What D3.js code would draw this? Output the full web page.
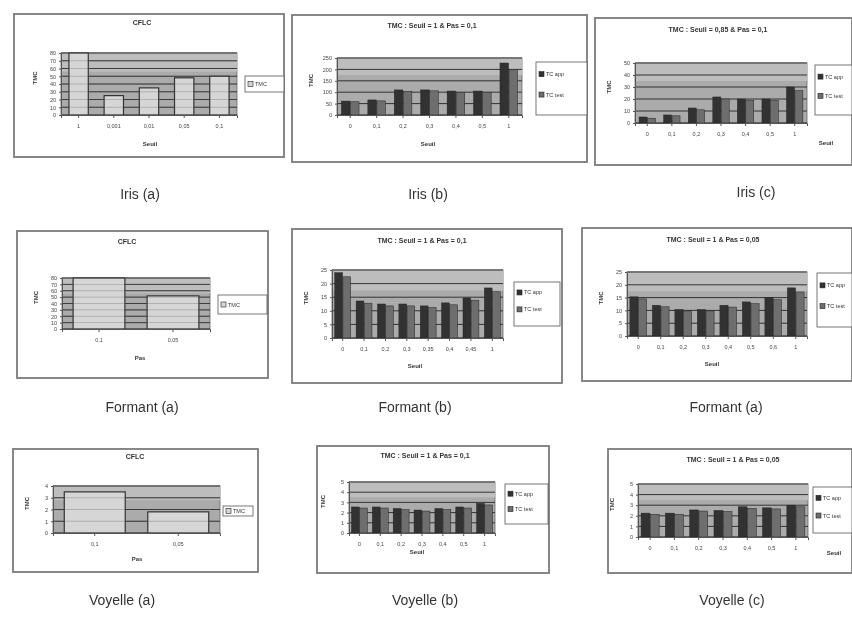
<!DOCTYPE html>
<html><head><meta charset="utf-8">
<script src="https://cdn.jsdelivr.net/npm/d3@7"></script>
<style>body{margin:0;background:#fff}svg{display:block}</style>
</head><body>
<svg id="c" width="852" height="619"></svg>
<script>
// ---------- DATA ----------
const irisA_cats = ["1","0,001","0,01","0,05","0,1"];
const irisA_tmc  = [80, 25, 35, 48, 50];
const irisA_ticks = [0,10,20,30,40,50,60,70,80];

const irisB_cats = ["0","0,1","0,2","0,3","0,4","0,5","1"];
const irisB_s1 = [61, 66, 110, 110, 105, 105, 228];
const irisB_s2 = [58, 62, 104, 106, 100, 100, 200];
const irisB_ticks = [0,50,100,150,200,250];

const irisC_cats = ["0","0,1","0,2","0,3","0,4","0,5","1"];
const irisC_s1 = [5, 6.7, 12.5, 21.7, 20, 20, 30];
const irisC_s2 = [4, 6, 11, 20, 19, 19, 27];
const irisC_ticks = [0,10,20,30,40,50];

const formA_cats = ["0,1","0,05"];
const formA_tmc  = [80, 52];
const formA_ticks = [0,10,20,30,40,50,60,70,80];

const formB_cats = ["0","0,1","0,2","0,3","0,35","0,4","0,45","1"];
const formB_s1 = [24, 13.6, 12.5, 12.5, 11.8, 12.9, 14.7, 18.4];
const formB_s2 = [22.5, 12.8, 11.8, 11.8, 11.2, 12.2, 13.9, 17];
const formB_ticks = [0,5,10,15,20,25];

const formC_cats = ["0","0,1","0,2","0,3","0,4","0,5","0,6","1"];
const formC_s1 = [15.3, 12, 10.3, 10.3, 12, 13.3, 15, 18.8];
const formC_s2 = [14.5, 11.4, 9.8, 9.8, 11.3, 12.6, 14.2, 17.2];
const formC_ticks = [0,5,10,15,20,25];

const voyA_cats = ["0,1","0,05"];
const voyA_tmc  = [3.5, 1.8];
const voyA_ticks = [0,1,2,3,4];

const voyB_cats = ["0","0,1","0,2","0,3","0,4","0,5","1"];
const voyB_s1 = [2.55, 2.55, 2.4, 2.25, 2.4, 2.55, 2.9];
const voyB_s2 = [2.45, 2.45, 2.3, 2.15, 2.3, 2.45, 2.75];
const voyB_ticks = [0,1,2,3,4,5];

const voyC_cats = ["0","0,1","0,2","0,3","0,4","0,5","1"];
const voyC_s1 = [2.25, 2.25, 2.55, 2.5, 2.85, 2.75, 3.0];
const voyC_s2 = [2.15, 2.15, 2.45, 2.4, 2.7, 2.65, 2.85];
const voyC_ticks = [0,1,2,3,4,5];

const legendTwo = ["TC app", "TC test"];
const legendOne = ["TMC"];

// ---------- LAYOUT ----------
const panels = [
 {box:[14,14,284,157], title:"CFLC", tx:142, ty:25, plot:[61,53,237,115], cats:irisA_cats, series:[irisA_tmc], ticks:irisA_ticks,
  leg:[245,76,284,92], xl:"Seuil", xlx:150, xly:146, cap:"Iris (a)", cx:140, cy:199, pad:0.45},
 {box:[292,15,587,162], title:"TMC : Seuil = 1 & Pas = 0,1", tx:432, ty:28, plot:[337,58,522,115], cats:irisB_cats, series:[irisB_s1,irisB_s2], ticks:irisB_ticks,
  leg:[536,62,587,115], xl:"Seuil", xlx:428, xly:146, cap:"Iris (b)", cx:428, cy:199, pad:0.3},
 {box:[595,18,852,165], title:"TMC : Seuil = 0,85 & Pas = 0,1", tx:718, ty:32, plot:[635,63,807,123], cats:irisC_cats, series:[irisC_s1,irisC_s2], ticks:irisC_ticks,
  leg:[815,65,852,115], xl:"Seuil", xlx:826, xly:145, cap:"Iris (c)", cx:756, cy:197, pad:0.3},
 {box:[17,231,268,378], title:"CFLC", tx:127, ty:244, plot:[62,278,210,329], cats:formA_cats, series:[formA_tmc], ticks:formA_ticks,
  leg:[218,295,267,314], xl:"Pas", xlx:140, xly:360, cap:"Formant (a)", cx:142, cy:412, pad:0.3},
 {box:[292,229,562,383], title:"TMC : Seuil = 1 & Pas = 0,1", tx:422, ty:243, plot:[332,270,503,338], cats:formB_cats, series:[formB_s1,formB_s2], ticks:formB_ticks,
  leg:[514,282,560,326], xl:"Seuil", xlx:415, xly:368, cap:"Formant (b)", cx:415, cy:412, pad:0.22},
 {box:[582,228,852,381], title:"TMC : Seuil = 1 & Pas = 0,05", tx:713, ty:242, plot:[627,272,807,336], cats:formC_cats, series:[formC_s1,formC_s2], ticks:formC_ticks,
  leg:[817,273,852,327], xl:"Seuil", xlx:712, xly:366, cap:"Formant (a)", cx:726, cy:412, pad:0.22},
 {box:[13,449,258,572], title:"CFLC", tx:135, ty:459, plot:[53,486,220,533], cats:voyA_cats, series:[voyA_tmc], ticks:voyA_ticks,
  leg:[223,506,253,516], xl:"Pas", xlx:137, xly:561, cap:"Voyelle (a)", cx:122, cy:605, pad:0.27},
 {box:[317,446,549,573], title:"TMC : Seuil = 1 & Pas = 0,1", tx:425, ty:458, plot:[349,482,495,533], cats:voyB_cats, series:[voyB_s1,voyB_s2], ticks:voyB_ticks,
  leg:[505,484,548,524], xl:"Seuil", xlx:417, xly:554, cap:"Voyelle (b)", cx:425, cy:605, pad:0.2},
 {box:[608,449,852,573], title:"TMC : Seuil = 1 & Pas = 0,05", tx:733, ty:462, plot:[638,484,808,537], cats:voyC_cats, series:[voyC_s1,voyC_s2], ticks:voyC_ticks,
  leg:[813,487,852,533], xl:"Seuil", xlx:834, xly:555, cap:"Voyelle (c)", cx:732, cy:605, pad:0.22}
];

const svg = d3.select("#c");
svg.append("defs").append("filter").attr("id","soft")
  .append("feGaussianBlur").attr("stdDeviation",0.6);
const root = svg.append("g").attr("filter","url(#soft)");
const fmt = d => String(d).replace(".", ",");
const FONT = "Liberation Sans, Arial, sans-serif";

function drawPanel(p){
  const g = root.append("g");
  const [bx0,by0,bx1,by1] = p.box;
  g.append("rect").attr("x",bx0).attr("y",by0).attr("width",bx1-bx0).attr("height",by1-by0)
    .attr("fill","#fff").attr("stroke","#7a7a7a").attr("stroke-width",1.8);
  g.append("text").attr("x",p.tx).attr("y",p.ty).attr("text-anchor","middle")
    .attr("font-family",FONT).attr("font-size",7).attr("font-weight","bold").attr("fill","#333").text(p.title);

  const [px0,py0,px1,py1] = p.plot;
  const x = d3.scaleBand().domain(p.cats).range([px0,px1]).paddingInner(p.pad).paddingOuter(p.pad/2);
  const y = d3.scaleLinear().domain([0, d3.max(p.ticks)]).range([py1,py0]);

  g.append("rect").attr("x",px0).attr("y",py0).attr("width",px1-px0).attr("height",py1-py0)
    .attr("fill","#ababab").attr("stroke","#666").attr("stroke-width",0.8);
  g.append("rect").attr("x",px0).attr("y",py0).attr("width",px1-px0).attr("height",(py1-py0)*0.3)
    .attr("fill","#bdbdbd");
  g.selectAll(".gl").data(p.ticks).enter().append("line")
    .attr("x1",px0).attr("x2",px1).attr("y1",d=>y(d)).attr("y2",d=>y(d))
    .attr("stroke","#333").attr("stroke-width",1);

  if (p.series.length === 1){
    g.selectAll(".b").data(p.series[0]).enter().append("rect")
      .attr("x",(d,i)=>x(p.cats[i])).attr("width",x.bandwidth())
      .attr("y",d=>y(d)).attr("height",d=>py1-y(d))
      .attr("fill","#d6d6d6").attr("stroke","#333").attr("stroke-width",1.2);
    g.selectAll(".gl2").data(p.ticks).enter().append("line")
      .attr("x1",px0).attr("x2",px1).attr("y1",d=>y(d)).attr("y2",d=>y(d))
      .attr("stroke","#555").attr("stroke-width",0.6).attr("opacity",0.5);
  } else {
    const sub = d3.scaleBand().domain(d3.range(p.series.length)).range([0,x.bandwidth()]).padding(0.05);
    const fills = ["#333","#6e6e6e"];
    p.series.forEach((s,k)=>{
      g.selectAll(".s"+k).data(s).enter().append("rect")
        .attr("x",(d,i)=>x(p.cats[i])+sub(k)).attr("width",sub.bandwidth())
        .attr("y",d=>y(d)).attr("height",d=>py1-y(d))
        .attr("fill",fills[k]).attr("stroke","#222").attr("stroke-width",0.5);
    });
  }

  const ya = g.append("g").attr("transform",`translate(${px0},0)`)
    .call(d3.axisLeft(y).tickValues(p.ticks).tickSize(2).tickFormat(fmt));
  const xa = g.append("g").attr("transform",`translate(0,${py1})`)
    .call(d3.axisBottom(x).tickSize(3));
  [ya,xa].forEach(a=>{
    a.selectAll("text").attr("font-family",FONT).attr("font-size",5.5).attr("fill","#444");
    a.selectAll("line,path").attr("stroke","#555");
  });
  xa.selectAll("text").attr("dy","1.2em");

  g.append("text").attr("transform",`translate(${px0-24},${(py0+py1)/2 - 6}) rotate(-90)`)
    .attr("text-anchor","middle").attr("font-family",FONT).attr("font-size",6).attr("font-weight","bold").attr("fill","#333").text("TMC");
  g.append("text").attr("x",p.xlx).attr("y",p.xly).attr("text-anchor","middle")
    .attr("font-family",FONT).attr("font-size",6).attr("font-weight","bold").attr("fill","#333").text(p.xl);

  const [lx0,ly0,lx1,ly1] = p.leg;
  g.append("rect").attr("x",lx0).attr("y",ly0).attr("width",lx1-lx0).attr("height",ly1-ly0)
    .attr("fill","#fff").attr("stroke","#555").attr("stroke-width",0.8);
  const names = p.series.length===1 ? legendOne : legendTwo;
  const step = (ly1-ly0)/(names.length+ (names.length>1?0.6:0));
  names.forEach((n,k)=>{
    const cy = ly0 + step*(k+0.5) + (names.length>1?2:0);
    g.append("rect").attr("x",lx0+3).attr("y",cy-2.5).attr("width",5).attr("height",5)
      .attr("fill", p.series.length===1 ? "#d6d6d6" : (k===0?"#333":"#6e6e6e")).attr("stroke","#222").attr("stroke-width",0.6);
    g.append("text").attr("x",lx0+10).attr("y",cy+2).attr("font-family",FONT).attr("font-size",5.5).attr("fill","#333").text(n);
  });

  root.append("text").attr("x",p.cx).attr("y",p.cy).attr("text-anchor","middle")
    .attr("font-family",FONT).attr("font-size",14).attr("fill","#333").text(p.cap);
}
panels.forEach(drawPanel);
</script>
</body></html>
